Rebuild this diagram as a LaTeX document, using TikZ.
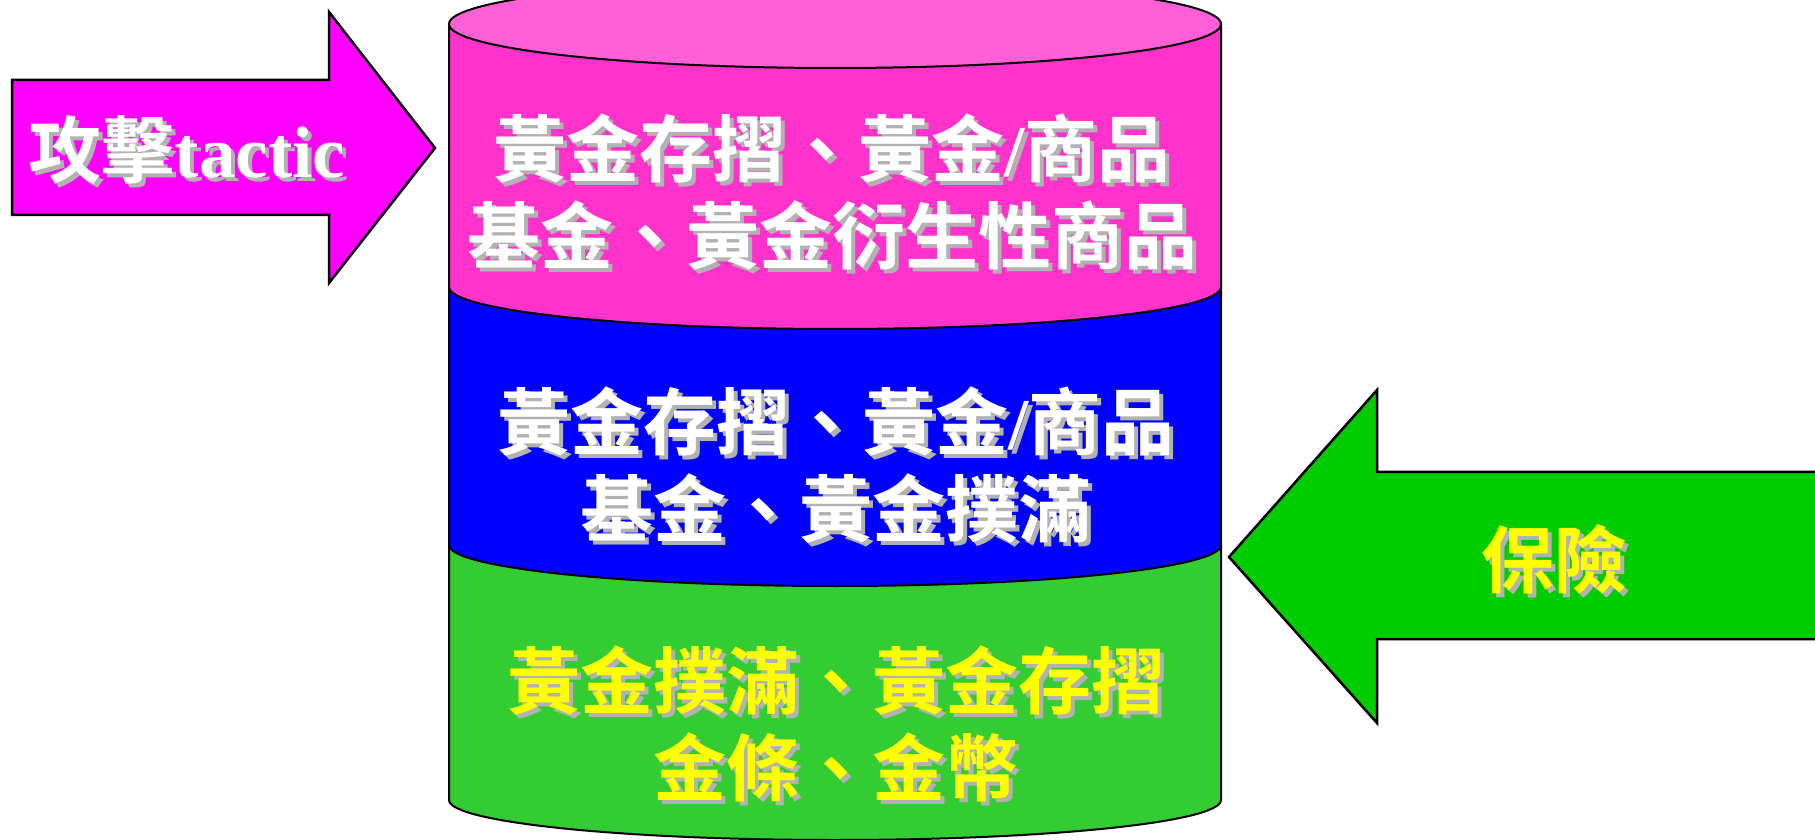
\documentclass[tikz,border=0pt]{standalone}
\usepackage{fontspec}
\setmainfont{Liberation Serif}
\newfontfamily\timesb{Liberation Serif Bold}
\newfontfamily\cjk{Noto Sans CJK TC Bold}
\definecolor{topPink}{RGB}{255,95,215}
\definecolor{bodyPink}{RGB}{255,51,204}
\definecolor{arrMag}{RGB}{255,0,255}
\definecolor{layBlue}{RGB}{0,0,255}
\definecolor{layGreen}{RGB}{51,204,51}
\definecolor{arrGreen}{RGB}{0,204,0}
\definecolor{txtYellow}{RGB}{255,255,0}
\definecolor{shadowgray}{RGB}{178,178,178}
\tikzset{
  cyl/.style={draw=black, line width=2pt, line join=round},
  arrowshape/.style={draw=black, line width=2.5pt, line join=miter},
  lbl/.style={font=\fontsize{73}{87}\selectfont, align=center, inner sep=0pt},
  shd/.style={lbl, text=shadowgray},
}
\begin{document}
\begin{tikzpicture}[x=1pt,y=1pt]
\useasboundingbox (0,0) rectangle (1815,839);
% cylinder layers, bottom first
\path[cyl, fill=layGreen] (449,294) -- (449,39) arc[start angle=180,end angle=360,x radius=386,y radius=40] -- (1221,294) -- cycle;
\path[cyl, fill=layBlue] (449,552) -- (449,294) arc[start angle=180,end angle=360,x radius=386,y radius=41] -- (1221,552) -- cycle;
\path[cyl, fill=bodyPink] (449,815) -- (449,552) arc[start angle=180,end angle=360,x radius=386,y radius=42] -- (1221,815) -- cycle;
\path[cyl, fill=topPink] (835,815) ellipse[x radius=386,y radius=44];
% arrows
\path[arrowshape, fill=arrMag] (12,624) -- (12,759) -- (329,759) -- (329,827) -- (435,691) -- (329,556) -- (329,624) -- cycle;
\path[arrowshape, fill=arrGreen] (1830,367) -- (1377,367) -- (1377,449) -- (1229,282) -- (1377,116) -- (1377,200) -- (1830,200) -- cycle;
% texts (shadow, then face)
\node[shd] (atks) at (191,685) {{\cjk 攻擊}{\timesb tactic}};
\node[lbl, text=white] (atk) at (187,689) {{\cjk 攻擊}{\timesb tactic}};
\node[shd] (pinks) at (836,643) {{\cjk 黃金存摺、黃金}{\timesb /}{\cjk 商品}\\{\cjk 基金、黃金衍生性商品}};
\node[lbl, text=white] (pink) at (832,647) {{\cjk 黃金存摺、黃金}{\timesb /}{\cjk 商品}\\{\cjk 基金、黃金衍生性商品}};
\node[shd] (blues) at (840,370) {{\cjk 黃金存摺、黃金}{\timesb /}{\cjk 商品}\\{\cjk 基金、黃金撲滿}};
\node[lbl, text=white] (blue) at (836,374) {{\cjk 黃金存摺、黃金}{\timesb /}{\cjk 商品}\\{\cjk 基金、黃金撲滿}};
\node[shd] (greens) at (840,111) {{\cjk 黃金撲滿、黃金存摺}\\{\cjk 金條、金幣}};
\node[lbl, text=txtYellow] (green) at (836,115) {{\cjk 黃金撲滿、黃金存摺}\\{\cjk 金條、金幣}};
\node[shd] (inss) at (1558,276) {\cjk 保險};
\node[lbl, text=txtYellow] (ins) at (1554,280) {\cjk 保險};
\end{tikzpicture}
\end{document}
